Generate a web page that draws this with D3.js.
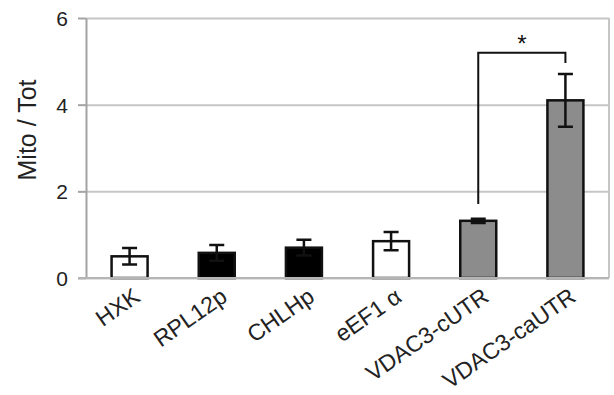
<!DOCTYPE html>
<html>
<head>
<meta charset="utf-8">
<script src="https://cdn.jsdelivr.net/npm/d3@7"></script>
<style>
  body { margin: 0; background: #fff; overflow: hidden; }
  svg { display: block; font-family: 'Liberation Sans', Arial, sans-serif; }
  .grid line { stroke: #c6c6c6; stroke-width: 2; }
  .grid .domain { display: none; }
  .axis-y .domain, .axis-y line { stroke: #a3a3a3; stroke-width: 2; }
  .axis-y text { font-size: 21px; fill: #222; }
  .axis-x text { font-size: 23px; fill: #222; }
  .bar { stroke: #111; stroke-width: 2.5; }
  .err { stroke: #111; stroke-width: 2.5; fill: none; }
  .bracket { stroke: #111; stroke-width: 2; fill: none; }
</style>
</head>
<body>
<div id="chart"></div>
<script>
// Data
const categories = ['HXK', 'RPL12p', 'CHLHp', 'eEF1 α', 'VDAC3-cUTR', 'VDAC3-caUTR']
const groups = ['cytosolic', 'mitochondrial', 'mitochondrial', 'cytosolic', 'reporter', 'reporter']
const means = [0.50, 0.58, 0.70, 0.85, 1.32, 4.10]
const errors = [0.19, 0.18, 0.18, 0.21, 0.05, 0.61]
const yTicks = [0, 2, 4, 6]

// Significance bracket: [left end, top, right end] in data units
const sigPair = ['VDAC3-cUTR', 'VDAC3-caUTR']
const sigLevels = [1.71, 5.2, 4.96]
const sigLabel = '*'

const data = categories.map((c, i) => ({ name: c, group: groups[i], mean: means[i], err: errors[i] }))

// Vars for dimensions
const width = 614
const height = 395
const margin = { top: 18, right: 5, bottom: 117, left: 86 }
const innerWidth = width - margin.left - margin.right
const innerHeight = height - margin.top - margin.bottom

const svg = d3.select('#chart')
  .append('svg')
  .attr('width', width)
  .attr('height', height)

const g = svg.append('g')
  .attr('transform', `translate(${margin.left}, ${margin.top})`)

// Scales
const xScale = d3.scaleBand()
  .domain(categories)
  .range([0, innerWidth])
  .paddingInner(0.587)
  .paddingOuter(0.2935)

const yScale = d3.scaleLinear()
  .domain([0, 6])
  .range([innerHeight, 0])

const color = d3.scaleOrdinal()
  .domain(['cytosolic', 'mitochondrial', 'reporter'])
  .range(['#ffffff', '#000000', '#8c8c8c'])

// Y gridlines
g.append('g')
  .attr('class', 'grid')
  .call(d3.axisLeft(yScale).tickValues(yTicks).tickSize(-innerWidth).tickFormat(''))

// Right border of the plot area
g.append('line')
  .attr('x1', innerWidth).attr('x2', innerWidth)
  .attr('y1', yScale(6)).attr('y2', yScale(0))
  .attr('stroke', '#c6c6c6')
  .attr('stroke-width', 2)

// Left axis
const yAxis = g.append('g')
  .attr('class', 'axis-y')
  .call(d3.axisLeft(yScale).tickValues(yTicks).tickFormat(d3.format('d')).tickSize(8).tickPadding(10).tickSizeOuter(0))
yAxis.selectAll('text').attr('dy', '0.36em')

// Y label
svg.append('text')
  .attr('transform', `translate(36, ${margin.top + 112}) rotate(-90)`)
  .attr('text-anchor', 'middle')
  .attr('font-size', 25)
  .attr('fill', '#222')
  .text('Mito / Tot')

// Bars
g.selectAll('.bar')
  .data(data)
  .join('rect')
  .attr('class', 'bar')
  .attr('x', d => xScale(d.name))
  .attr('y', d => yScale(d.mean))
  .attr('width', xScale.bandwidth())
  .attr('height', d => innerHeight - yScale(d.mean))
  .attr('fill', d => color(d.group))

// Error bars
const capHalf = 7.5
g.selectAll('.err')
  .data(data)
  .join('path')
  .attr('class', 'err')
  .attr('d', d => {
    const cx = xScale(d.name) + xScale.bandwidth() / 2
    const top = yScale(d.mean + d.err)
    const bot = yScale(d.mean - d.err)
    return `M${cx},${top}V${bot}M${cx - capHalf},${top}H${cx + capHalf}M${cx - capHalf},${bot}H${cx + capHalf}`
  })

// Zero baseline
g.append('line')
  .attr('x1', -8).attr('x2', innerWidth)
  .attr('y1', yScale(0)).attr('y2', yScale(0))
  .attr('stroke', '#b5b5b5')
  .attr('stroke-width', 2)

// X labels, rotated
g.append('g')
  .attr('class', 'axis-x')
  .selectAll('text')
  .data(categories)
  .join('text')
  .attr('text-anchor', 'end')
  .attr('transform', d => `translate(${xScale(d) + xScale.bandwidth() / 2 + 12}, ${innerHeight + 22}) rotate(-35)`)
  .text(d => d)

// Significance bracket
const bx1 = xScale(sigPair[0]) + xScale.bandwidth() / 2
const bx2 = xScale(sigPair[1]) + xScale.bandwidth() / 2
g.append('path')
  .attr('class', 'bracket')
  .attr('d', `M${bx1},${yScale(sigLevels[0])}V${yScale(sigLevels[1])}H${bx2}V${yScale(sigLevels[2])}`)

g.append('text')
  .attr('x', (bx1 + bx2) / 2)
  .attr('y', yScale(sigLevels[1]) - 1)
  .attr('text-anchor', 'middle')
  .attr('font-size', 24)
  .attr('fill', '#111')
  .text(sigLabel)
</script>
</body>
</html>
